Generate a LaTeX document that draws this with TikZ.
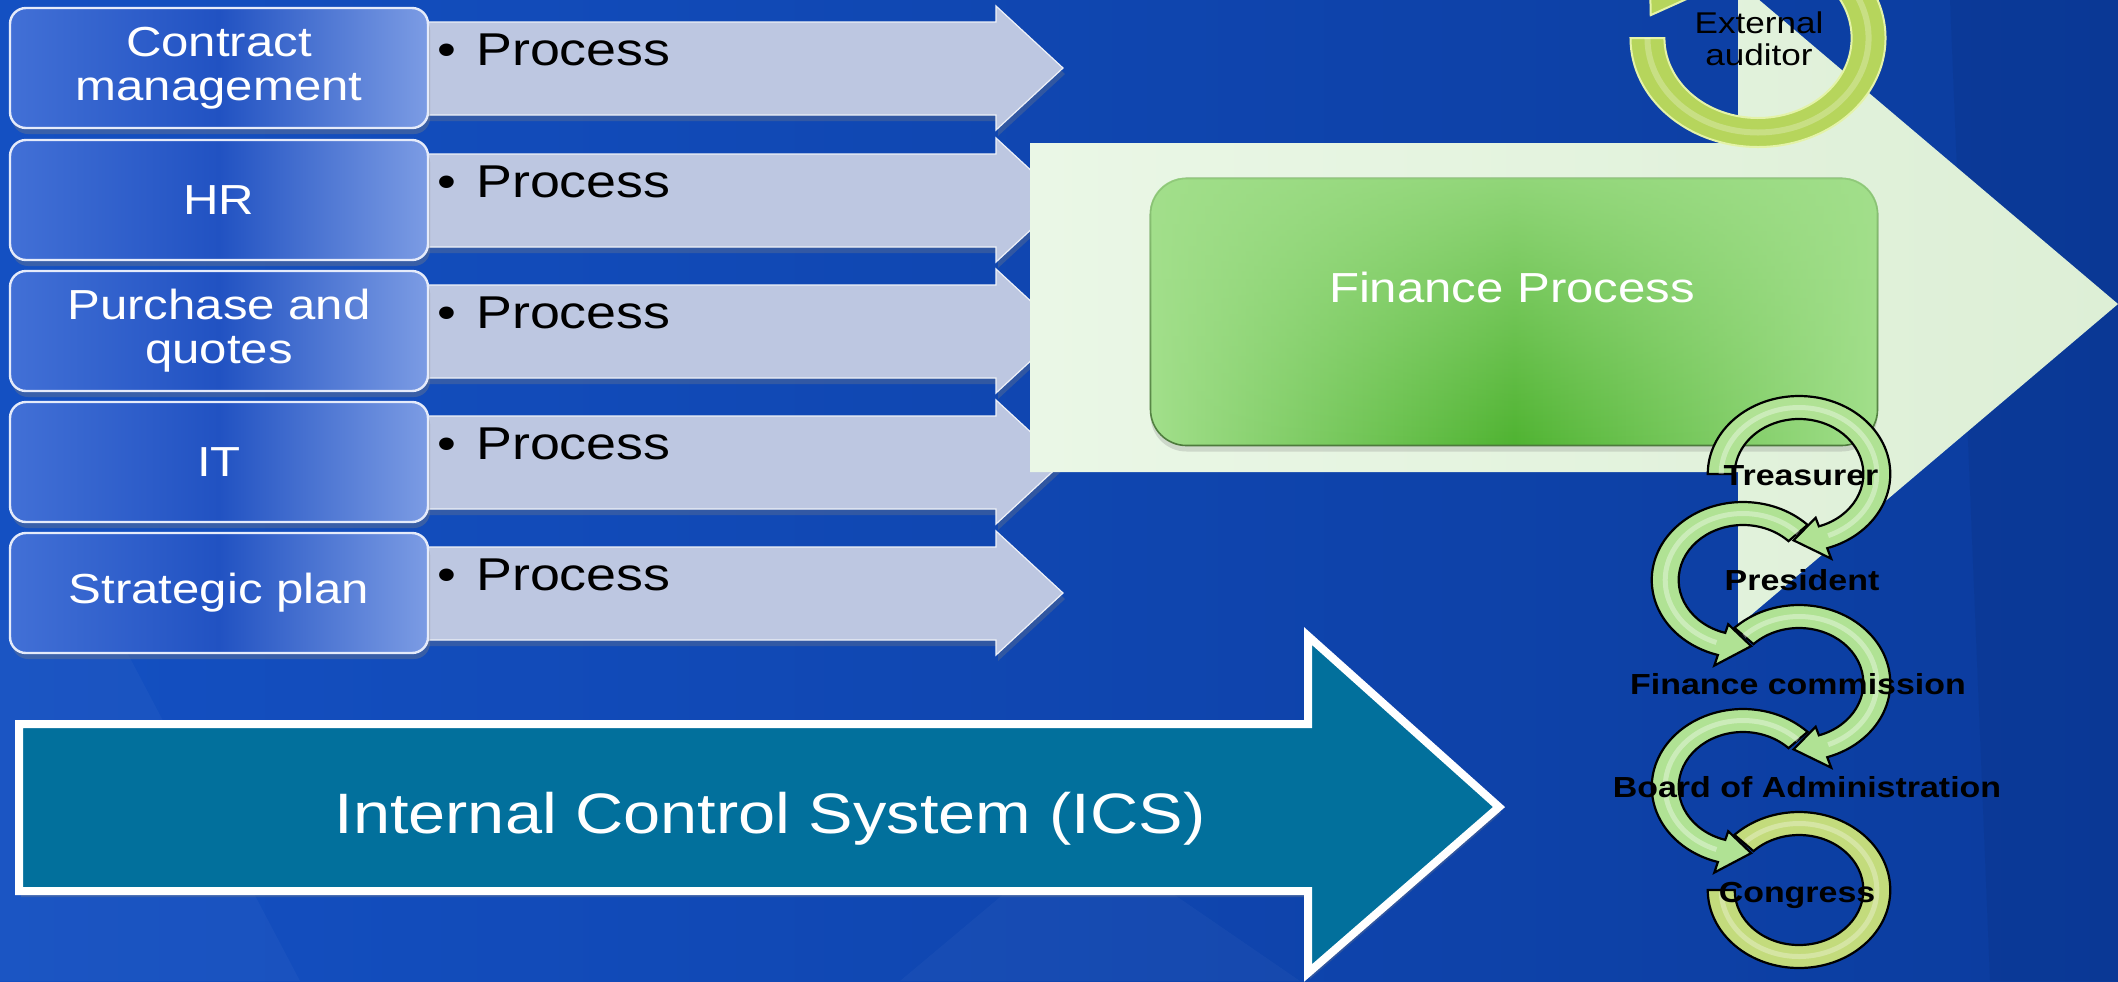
\documentclass[tikz,border=0pt]{standalone}
\usepackage{fontspec}
\usetikzlibrary{shadows,fadings}
\setmainfont{Liberation Sans}[FakeStretch=1.17]
\definecolor{bgL}{HTML}{1450C2}
\definecolor{bgR}{HTML}{0B3C9E}
\definecolor{procfill}{HTML}{BDC7E1}
\definecolor{icsfill}{HTML}{02709C}
\definecolor{palegreen}{HTML}{EAF7E6}
\definecolor{palegreen2}{HTML}{DDEFD6}
\definecolor{ringgreen}{HTML}{B0E294}
\definecolor{ringyellow}{HTML}{C3DB7C}
\definecolor{extgreen}{HTML}{B6D55C}
\definecolor{extedge}{HTML}{E4F3A8}
\definecolor{boxL}{HTML}{4270D6}
\definecolor{boxM}{HTML}{2152C2}
\definecolor{boxR}{HTML}{7C9CE4}
\definecolor{finedge}{HTML}{4D7A3C}
\definecolor{finside}{HTML}{A2DF8B}
\definecolor{finmid}{HTML}{4FB331}
\newcommand{\ringcw}[3]{%
\begin{scope}[shift={(#1)}, x=0.585pt, y=0.5pt]
\filldraw[#3] (#2:78) arc[start angle=#2, end angle=-72, radius=78] -- (-72:89) -- (-94:66.5) -- (-72:46) -- (-72:55) arc[start angle=-72, end angle=#2, radius=55] -- cycle;
\draw[white, opacity=0.35, line width=2.5pt] (#2:66.5) arc[start angle=#2, end angle=-68, radius=66.5];
\end{scope}}
\newcommand{\ringccw}[3]{%
\begin{scope}[shift={(#1)}, x=0.585pt, y=0.5pt]
\filldraw[#3] (#2:78) arc[start angle=#2, end angle=254, radius=78] -- (254:89) -- (276:66.5) -- (254:46) -- (254:55) arc[start angle=254, end angle=#2, radius=55] -- cycle;
\draw[white, opacity=0.35, line width=2.5pt] (#2:66.5) arc[start angle=#2, end angle=250, radius=66.5];
\end{scope}}
\tikzset{
  leftbox/.style={draw=white!80!boxR, line width=1.2pt, rounded corners=8pt, left color=boxL, right color=boxR, middle color=boxM, minimum width=209pt, minimum height=60pt, text=white, align=center, font=\fontsize{21}{22}\selectfont, drop shadow={opacity=0.35, shadow xshift=1pt, shadow yshift=-3pt}},
  proctext/.style={anchor=base west, text=black, inner sep=0pt, font=\fontsize{23}{25}\selectfont},
  procarrow/.style={fill=procfill, draw=white!75!procfill, line width=0.6pt},
  ringstyle/.style={fill=ringgreen, draw=black, line width=1.1pt},
  ring5style/.style={fill=ringyellow, draw=black, line width=1.1pt},
  lbl/.style={anchor=base, text=black, inner sep=0pt, font=\bfseries\fontsize{14.5}{16}\selectfont},
}
\begin{document}
\begin{tikzpicture}[x=0.5pt,y=-0.5pt]
\useasboundingbox (0,0) rectangle (2118,981);
\clip (0,0) rectangle (2118,981);
% background
\shade[left color=bgL, right color=bgR] (0,0) rectangle (2118,981);
\fill[white, opacity=0.03] (0,620) -- (110,620) -- (300,981) -- (0,981) -- cycle;
\fill[white, opacity=0.03] (900,981) -- (1080,830) -- (1300,981) -- cycle;
\fill[black, opacity=0.05] (1950,0) -- (2118,0) -- (2118,981) -- (1990,981) -- cycle;
% process arrows
\foreach \T in {8,140,271,402,533}{
  \path[procarrow, drop shadow={opacity=0.3, shadow xshift=1pt, shadow yshift=-3pt}] (400,\T+14) -- (996,\T+14) -- (996,\T-2) -- (1063,\T+60) -- (996,\T+122) -- (996,\T+107) -- (400,\T+107) -- cycle;
}
% big pale arrow
\shade[left color=palegreen, right color=palegreen2] (1030,143) -- (1738,143) -- (1738,-18) -- (2118,304) -- (1738,626) -- (1738,472) -- (1030,472) -- cycle;
% finance box
\node[draw=finedge, line width=0.8pt, rounded corners=18pt, left color=finside, right color=finside, middle color=finmid, minimum width=363.5pt, minimum height=133.5pt, drop shadow={opacity=0.25, shadow xshift=0pt, shadow yshift=-3pt}] (fin) at (1514,312) {};
\fill[finside, opacity=0.8, path fading=south, rounded corners=18pt] (fin.north west) rectangle (fin.south east);
\node[anchor=base, text=white, inner sep=0pt, font=\fontsize{21}{23}\selectfont] (fintxt) at (1512,302) {Finance Process};
% external auditor ring
\coordinate (ce) at (1758,38);
\begin{scope}[shift={(ce)}, x=0.585pt, y=0.5pt]
\filldraw[fill=extgreen, draw=extedge, line width=1pt] (-180:109) arc[start angle=-180, end angle=140, radius=109] -- (140:121) -- (166:94.5) -- (140:68) -- (140:80) arc[start angle=140, end angle=-180, radius=80] -- cycle;
\draw[white, opacity=0.25, line width=3pt] (-180:94.5) arc[start angle=-180, end angle=140, radius=94.5];
\end{scope}
\node[align=center, text=black, inner sep=0pt, font=\fontsize{15}{16}\selectfont] (ext) at (1759,39) {External\\auditor};
% circular arrows
\coordinate (c1) at (1799,474);
\coordinate (c2) at (1743,580);
\coordinate (c3) at (1799,683);
\coordinate (c4) at (1743,787);
\coordinate (c5) at (1799,890);
\begin{scope}[shift={(c5)}, x=0.585pt, y=0.5pt]
\filldraw[ring5style] (135:78) arc[start angle=135, end angle=-180, radius=78] -- (-180:55) arc[start angle=-180, end angle=135, radius=55] -- cycle;
\draw[white, opacity=0.3, line width=2.5pt] (133:66.5) arc[start angle=133, end angle=-178, radius=66.5];
\end{scope}
\ringccw{c4}{45}{ringstyle}
\ringcw{c3}{135}{ringstyle}
\ringccw{c2}{45}{ringstyle}
\ringcw{c1}{180}{ringstyle}
\node[lbl] (t1) at (1801,485) {Treasurer};
\node[lbl] (t2) at (1802,590) {President};
\node[lbl] (t3) at (1798,694) {Finance commission};
\node[lbl] (t4) at (1807,797) {Board of Administration};
\node[lbl] (t5) at (1797,902) {Congress};
% left boxes and process labels
\foreach \T/\lab [count=\i] in {8/{Contract\\management}, 140/HR, 271/{Purchase and\\quotes}, 402/IT, 533/{Strategic plan}}{
  \node[leftbox] (box\i) at (219,\T+60) {\lab};
  \node[proctext] (proc\i) at (437,\T+57) {\textbullet\hspace{10pt}Process};
}
% ICS arrow
\path[fill=icsfill, draw=white, line width=4pt, line join=miter, drop shadow={opacity=0.3, shadow xshift=1pt, shadow yshift=-3pt}] (19,724) -- (1308,724) -- (1308,636) -- (1499,807) -- (1308,973) -- (1308,891) -- (19,891) -- cycle;
\node[anchor=base, text=white, inner sep=0pt, font=\fontsize{28.5}{30}\selectfont] (ics) at (770,833) {Internal Control System (ICS)};
\end{tikzpicture}
\end{document}
